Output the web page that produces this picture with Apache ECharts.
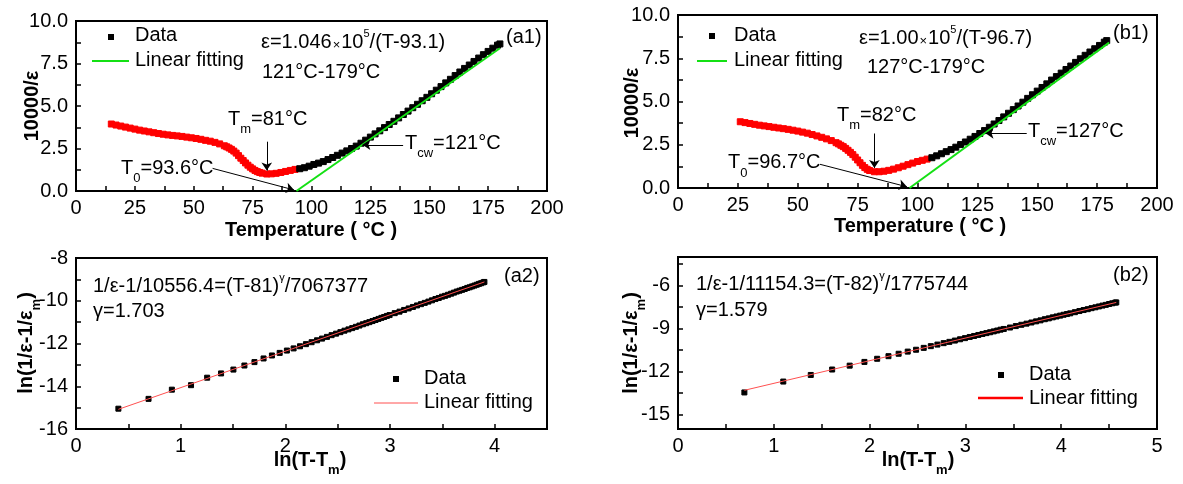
<!DOCTYPE html>
<html><head><meta charset="utf-8">
<script src="https://cdn.jsdelivr.net/npm/echarts@6/dist/echarts.min.js"></script>
<style>html,body{margin:0;padding:0;background:#fff}#c{width:1183px;height:484px}</style>
</head><body><div id="c"></div>
<script>
// ---------- data (a1) ----------
const a1RedT = [15,17,19,21,23,25,27,29,31,33,35,37,39,41,43,45,47,49,51,53,55,57,59,61,
  63,64,65,66,67,68,69,70,71,72,73,74,75,76,77,78,79,81,83,85,87,89,91,93];
const a1RedV = [3.94,3.88,3.82,3.76,3.70,3.64,3.58,3.53,3.48,3.43,3.38,3.34,3.30,3.27,3.24,3.21,3.17,3.13,3.09,3.04,2.98,2.93,2.86,2.77,
  2.66,2.60,2.53,2.45,2.35,2.23,2.08,1.93,1.79,1.65,1.52,1.40,1.30,1.21,1.14,1.09,1.05,1.00,1.01,1.04,1.09,1.15,1.21,1.27];
const a1BlackT = [95,97,99,101,103,105,107,109,111,113,115,117,119,121,123,125,127,129,131,133,135,137,139,141,143,145,147,149,151,153,155,157,159,161,163,165,167,169,171,173,175,177,179,180];
const a1BlackV = [1.31,1.37,1.46,1.56,1.64,1.73,1.85,1.97,2.10,2.23,2.36,2.50,2.64,2.81,2.99,3.17,3.36,3.54,3.73,3.91,4.10,4.30,4.50,4.70,4.90,5.10,5.31,5.51,5.72,5.93,6.14,6.36,6.57,6.79,7.00,7.21,7.41,7.62,7.82,8.02,8.21,8.40,8.58,8.65];
const a1FitT = [93.6, 180];
const a1FitV = [0, 8.4];

// ---------- data (b1) ----------
const b1RedT = [26,28,30,32,34,36,38,40,42,44,46,48,50,52,54,56,58,60,62,64,66,
  67,68,69,70,71,72,73,74,75,76,77,78,79,80,82,84,86,88,90,92,94,96,98,100,102,104];
const b1RedV = [3.83,3.78,3.73,3.68,3.63,3.59,3.55,3.51,3.47,3.43,3.39,3.34,3.29,3.23,3.17,3.09,3.01,2.93,2.84,2.74,2.62,
  2.55,2.47,2.39,2.29,2.18,2.06,1.93,1.78,1.62,1.46,1.31,1.18,1.08,1.01,0.94,0.94,0.97,1.02,1.09,1.17,1.26,1.35,1.44,1.53,1.60,1.67];
const b1BlackT = [106,108,110,112,114,116,118,120,122,124,126,128,130,132,134,136,138,140,142,144,146,148,150,152,154,156,158,160,162,164,166,168,170,172,174,176,178,179];
const b1BlackV = [1.75,1.86,1.98,2.10,2.22,2.36,2.51,2.66,2.82,2.98,3.15,3.32,3.51,3.70,3.90,4.11,4.32,4.53,4.74,4.96,5.18,5.39,5.60,5.81,6.02,6.24,6.44,6.64,6.85,7.05,7.26,7.47,7.67,7.86,8.05,8.24,8.43,8.52];
const b1FitT = [96.7, 180];
const b1FitV = [0, 8.4];

// ---------- data (a2) ----------
const a2X = [0.405,0.693,0.916,1.099,1.253,1.386,1.504,1.609,1.705,1.792,1.872,1.946,2.015,2.079,2.140,2.197,2.251,2.303,
  2.351,2.398,2.442,2.485,2.526,2.565,2.603,2.639,2.674,2.708,2.741,2.773,2.803,2.833,2.862,2.890,2.918,2.944,2.970,2.996,
  3.045,3.091,3.135,3.178,3.219,3.258,3.296,3.332,3.367,3.401,3.434,3.466,3.497,3.526,3.555,3.584,3.611,3.638,3.664,3.689,
  3.714,3.738,3.761,3.784,3.807,3.829,3.850,3.871,3.892,3.902];
const a2Y = [-15.05,-14.59,-14.16,-13.95,-13.60,-13.40,-13.22,-13.03,-12.87,-12.70,-12.56,-12.44,-12.33,-12.23,-12.13,-12.03,-11.94,-11.85,
  -11.77,-11.69,-11.61,-11.54,-11.47,-11.40,-11.34,-11.28,-11.22,-11.16,-11.10,-11.05,-11.00,-10.95,-10.90,-10.85,-10.80,-10.76,-10.71,-10.67,
  -10.58,-10.51,-10.43,-10.36,-10.29,-10.22,-10.16,-10.10,-10.04,-9.98,-9.92,-9.87,-9.81,-9.77,-9.72,-9.67,-9.62,-9.57,-9.53,-9.49,
  -9.45,-9.40,-9.37,-9.33,-9.29,-9.25,-9.21,-9.18,-9.14,-9.12];
const a2FitX = [0.405, 3.902];
const a2FitY = [-15.08, -9.12];

// ---------- data (b2) ----------
const b2X = [0.693,1.099,1.386,1.609,1.792,1.946,2.079,2.197,2.303,2.398,2.485,2.565,2.639,2.708,2.773,2.833,2.890,2.944,2.996,
  3.045,3.091,3.135,3.178,3.219,3.258,3.296,3.332,3.367,3.401,3.466,3.526,3.584,3.638,3.689,3.738,3.784,3.829,3.871,3.912,3.951,3.989,
  4.025,4.060,4.094,4.143,4.190,4.234,4.277,4.317,4.357,4.394,4.431,4.466,4.500,4.533,4.564,4.575];
const b2Y = [-13.45,-12.69,-12.23,-11.85,-11.58,-11.32,-11.10,-10.92,-10.75,-10.60,-10.47,-10.34,-10.22,-10.11,-10.01,-9.92,-9.83,-9.74,-9.66,
  -9.58,-9.51,-9.44,-9.37,-9.31,-9.25,-9.19,-9.13,-9.07,-9.02,-8.92,-8.82,-8.73,-8.65,-8.57,-8.49,-8.42,-8.34,-8.28,-8.21,-8.15,-8.09,
  -8.03,-7.98,-7.93,-7.85,-7.77,-7.70,-7.64,-7.57,-7.51,-7.45,-7.39,-7.34,-7.28,-7.23,-7.18,-7.17];
const b2FitX = [0.693, 4.575];
const b2FitY = [-13.30, -7.17];

// tick label sets
const tempLabels = [0,25,50,75,100,125,150,175,200];
const invLabels = [0,2.5,5,7.5,10];
const a2YLabels = [-16,-14,-12,-10,-8];
const b2YLabels = [-15,-12,-9,-6];
const b2YTicks = [-15,-13.5,-12,-10.5,-9,-7.5,-6,-4.5];

// ---------- build ----------
const FONT = "'Liberation Sans', Arial, Helvetica, sans-serif";
const pairs = (xs, ys) => xs.map((x, i) => [x, ys[i]]);
const near = (v, arr) => arr.some(a => Math.abs(a - v) < 1e-6);

const grids = [
  {left:76, top:21, width:471, height:170},
  {left:678, top:15, width:479, height:173},
  {left:76, top:258, width:471, height:171},
  {left:678, top:257, width:479, height:172}
].map(g => Object.assign({show:true, borderColor:'#000', borderWidth:2, backgroundColor:'transparent'}, g));

function axisBase(gi, min, max, interval, fmt) {
  const a = {
    type:'value', gridIndex:gi, min:min, max:max,
    axisLine:{show:true, onZero:false, lineStyle:{color:'#000', width:2}},
    axisTick:{show:true, inside:true, length:5, lineStyle:{color:'#000', width:1.5}},
    splitLine:{show:false},
    axisLabel:{fontSize:20, fontFamily:FONT, color:'#000', margin:7, formatter:fmt}
  };
  if (interval != null) a.interval = interval;
  return a;
}

const xAxes = [
  axisBase(0, 0, 200, 12.5, v => near(v, tempLabels) ? String(v) : ''),
  axisBase(1, 0, 200, 12.5, v => near(v, tempLabels) ? String(v) : ''),
  axisBase(2, 0, 4.5, 0.5, v => Number.isInteger(v) && v <= 4 ? String(v) : ''),
  axisBase(3, 0, 5, 0.5, v => Number.isInteger(v) ? String(v) : '')
];
xAxes.forEach(a => a.position = 'bottom');

const yb2 = axisBase(3, -16, -4, null, v => near(v, b2YLabels) ? String(v) : '');
yb2.axisTick.customValues = b2YTicks;
yb2.axisLabel.customValues = b2YLabels;
const yAxes = [
  axisBase(0, 0, 10, 1.25, v => near(v, invLabels) ? v.toFixed(1) : ''),
  axisBase(1, 0, 10, 1.25, v => near(v, invLabels) ? v.toFixed(1) : ''),
  axisBase(2, -16, -8, 1, v => near(v, a2YLabels) ? String(v) : ''),
  yb2
];
yAxes.forEach(a => { a.position = 'left'; a.axisLabel.margin = 8; });

const GREEN = '#14e014';
const RED = '#ff0000';
const FITRED = '#ff5050';

function scatter(gi, data, color, size, extra) {
  return Object.assign({type:'scatter', xAxisIndex:gi, yAxisIndex:gi, data:data, symbol:'rect',
    symbolSize:size, itemStyle:{color:color, opacity:1, borderColor:color, borderWidth:1},
    silent:true, z:2}, extra || {});
}
function fitLine(gi, data, color, width) {
  return {type:'line', xAxisIndex:gi, yAxisIndex:gi, data:data, showSymbol:false, symbol:'none',
    lineStyle:{color:color, width:width}, silent:true, z:4};
}
function arrows(lines) {
  return {markLine:{silent:true, symbol:['none','arrow'], symbolSize:8, animation:false,
    lineStyle:{color:'#000', width:1, type:'solid'}, label:{show:false}, emphasis:{disabled:true},
    data: lines.map(l => [{coord:l[0]}, {coord:l[1]}])}};
}

const series = [
  scatter(0, pairs(a1RedT, a1RedV), RED, 6, arrows([
    [[81, 2.9], [81, 1.2]],
    [[58, 1.33], [92.6, 0.06]],
    [[138.9, 2.72], [121.6, 2.72]]
  ])),
  scatter(0, pairs(a1BlackT, a1BlackV), '#000', 6),
  fitLine(0, pairs(a1FitT, a1FitV), GREEN, 2),
  scatter(1, pairs(b1RedT, b1RedV), RED, 6, arrows([
    [[82, 3.15], [82, 1.16]],
    [[59.3, 1.37], [95.6, 0.07]],
    [[145.6, 3.16], [128.4, 3.16]]
  ])),
  scatter(1, pairs(b1BlackT, b1BlackV), '#000', 6),
  fitLine(1, pairs(b1FitT, b1FitV), GREEN, 2),
  scatter(2, pairs(a2X, a2Y), '#000', 5),
  fitLine(2, pairs(a2FitX, a2FitY), FITRED, 1),
  scatter(3, pairs(b2X, b2Y), '#000', 5),
  fitLine(3, pairs(b2FitX, b2FitY), FITRED, 1)
];

// ---------- text ----------
function rich(bold) {
  const w = bold ? 'bold' : 'normal';
  const base = {fontFamily:FONT, fontWeight:w, fill:'#000', verticalAlign:'top'};
  return {
    n: Object.assign({fontSize:20, lineHeight:22, padding:[6,0,0,0]}, base),
    sup: Object.assign({fontSize:11, lineHeight:11, padding:[2,0,0,0]}, base),
    sub: Object.assign({fontSize:13, lineHeight:13, padding:[20,0,0,0]}, base),
    x: Object.assign({fontSize:13, lineHeight:13, padding:[12,1,0,1]}, base)
  };
}
const RN = rich(false), RB = rich(true);
function T(x, y, text, opt) {
  opt = opt || {};
  return {type:'text', x:x, y:y, rotation:opt.rot || 0, silent:true, z:10,
    style:{text:text, rich: opt.bold ? RB : RN, fontSize:20, fontFamily:FONT, fontWeight: opt.bold ? 'bold':'normal',
      fill:'#000', align: opt.align || 'left', verticalAlign: opt.va || 'top'}};
}
function sq(cx, cy) {
  return {type:'rect', silent:true, z:10, shape:{x:cx-3, y:cy-3, width:6, height:6}, style:{fill:'#000'}};
}
function ln(x1, x2, y, color, w) {
  return {type:'line', silent:true, z:10, shape:{x1:x1, y1:y, x2:x2, y2:y}, style:{stroke:color, lineWidth:w}};
}

const graphic = [
  // a1
  sq(111, 37), T(135, 19.3, '{n|Data}'),
  ln(92, 129, 61, GREEN, 2), T(135, 44, '{n|Linear fitting}'),
  T(261, 26.7, '{n|ε=1.046}{x|×}{n|10}{sup|5}{n|/(T-93.1)}'),
  T(262, 56.7, '{n|121°C-179°C}'),
  T(506, 21, '{n|(a1)}'),
  T(228, 103.3, '{n|T}{sub|m}{n|=81°C}'),
  T(121, 152.3, '{n|T}{sub|0}{n|=93.6°C}'),
  T(405, 127.3, '{n|T}{sub|cw}{n|=121°C}'),
  T(27, 106, '{n|10000/ε}', {bold:true, rot:Math.PI/2, align:'center', va:'middle'}),
  T(311, 225, '{n|Temperature ( °C )}', {bold:true, align:'center', va:'middle'}),
  // b1
  sq(712, 36), T(734, 19.3, '{n|Data}'),
  ln(697, 727, 61, GREEN, 2), T(734, 44.3, '{n|Linear fitting}'),
  T(859, 22.7, '{n|ε=1.00}{x|×}{n|10}{sup|5}{n|/(T-96.7)}'),
  T(867, 51.7, '{n|127°C-179°C}'),
  T(1113, 17.3, '{n|(b1)}'),
  T(837, 99, '{n|T}{sub|m}{n|=82°C}'),
  T(728, 146.7, '{n|T}{sub|0}{n|=96.7°C}'),
  T(1028, 115, '{n|T}{sub|cw}{n|=127°C}'),
  T(627, 103, '{n|10000/ε}', {bold:true, rot:Math.PI/2, align:'center', va:'middle'}),
  T(920, 221, '{n|Temperature ( °C )}', {bold:true, align:'center', va:'middle'}),
  // a2
  T(93, 270, '{n|1/ε-1/10556.4=(T-81)}{sup|γ}{n|/7067377}'),
  T(93, 295, '{n|γ=1.703}'),
  T(504, 260, '{n|(a2)}'),
  sq(396, 379), T(424, 362.7, '{n|Data}'),
  ln(374, 418, 403, FITRED, 1), T(424, 386.7, '{n|Linear fitting}'),
  T(21, 343, '{n|ln(1/ε-1/ε}{sub|m}{n|)}', {bold:true, rot:Math.PI/2, align:'center', va:'middle'}),
  T(310, 444, '{n|ln(T-T}{sub|m}{n|)}', {bold:true, align:'center'}),
  // b2
  T(696, 268.3, '{n|1/ε-1/11154.3=(T-82)}{sup|γ}{n|/1775744}'),
  T(696, 294, '{n|γ=1.579}'),
  T(1113, 259.3, '{n|(b2)}'),
  sq(1001, 375), T(1029, 358.3, '{n|Data}'),
  ln(978, 1023, 398, RED, 2.5), T(1029, 382.3, '{n|Linear fitting}'),
  T(626, 343, '{n|ln(1/ε-1/ε}{sub|m}{n|)}', {bold:true, rot:Math.PI/2, align:'center', va:'middle'}),
  T(918, 444, '{n|ln(T-T}{sub|m}{n|)}', {bold:true, align:'center'})
];

const chart = echarts.init(document.getElementById('c'), null, {renderer:'canvas', width:1183, height:484});
chart.setOption({
  animation:false,
  backgroundColor:'#fff',
  textStyle:{fontFamily:FONT},
  grid:grids, xAxis:xAxes, yAxis:yAxes, series:series, graphic:graphic
});
</script>
</body></html>
